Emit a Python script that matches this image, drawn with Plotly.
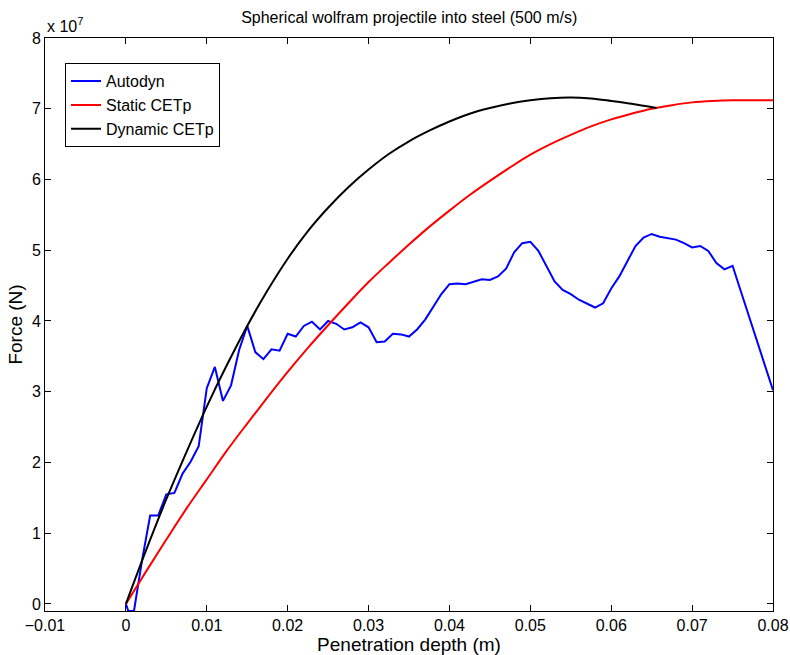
import plotly.graph_objects as go

# Force values in units of 1e7 N, depth in m
autodyn_x = [0.0, 0.0003, 0.001, 0.002, 0.003, 0.004, 0.005, 0.006, 0.007, 0.008, 0.009,
             0.010, 0.011, 0.012, 0.013, 0.014, 0.015, 0.016, 0.017, 0.018, 0.019,
             0.020, 0.021, 0.022, 0.023, 0.024, 0.025, 0.026, 0.027, 0.028, 0.029,
             0.030, 0.031, 0.032, 0.033, 0.034, 0.035, 0.036, 0.037, 0.038, 0.039,
             0.040, 0.041, 0.042, 0.043, 0.044, 0.045, 0.046, 0.047, 0.048, 0.049,
             0.050, 0.051, 0.052, 0.053, 0.054, 0.055, 0.056, 0.057, 0.058, 0.059,
             0.060, 0.061, 0.062, 0.063, 0.064, 0.065, 0.066, 0.067, 0.068, 0.069,
             0.070, 0.071, 0.072, 0.073, 0.074, 0.075, 0.080]
autodyn_f = [0.0, -0.1, -0.1, 0.62, 1.25, 1.25, 1.55, 1.57, 1.84, 2.01, 2.23,
             3.05, 3.35, 2.87, 3.09, 3.59, 3.93, 3.56, 3.46, 3.60, 3.58,
             3.82, 3.78, 3.93, 3.99, 3.88, 4.00, 3.96, 3.88, 3.91, 3.98,
             3.91, 3.70, 3.71, 3.82, 3.81, 3.78, 3.88, 4.02, 4.20, 4.38,
             4.52, 4.53, 4.52, 4.56, 4.59, 4.58, 4.63, 4.74, 4.97, 5.10,
             5.12, 4.99, 4.78, 4.56, 4.44, 4.38, 4.30, 4.24, 4.19, 4.25,
             4.46, 4.63, 4.85, 5.06, 5.18, 5.23, 5.19, 5.17, 5.15, 5.10,
             5.04, 5.06, 4.99, 4.82, 4.73, 4.78, 3.02]

static_x = [0.0, 0.0025, 0.005, 0.0075, 0.010, 0.0125, 0.015, 0.0175, 0.020,
            0.0225, 0.025, 0.0275, 0.030, 0.0325, 0.035, 0.0375, 0.040, 0.0425,
            0.045, 0.0475, 0.050, 0.0525, 0.055, 0.0575, 0.060, 0.0625, 0.065,
            0.0675, 0.070, 0.0725, 0.075, 0.0775, 0.080]
static_f = [0.0, 0.46, 0.91, 1.35, 1.76, 2.17, 2.55, 2.92, 3.28,
            3.62, 3.94, 4.25, 4.55, 4.82, 5.08, 5.33, 5.56, 5.78,
            5.98, 6.17, 6.35, 6.50, 6.63, 6.75, 6.85, 6.93, 7.00,
            7.05, 7.09, 7.11, 7.12, 7.12, 7.12]

dynamic_x = [0.0, 0.0025, 0.005, 0.0075, 0.010, 0.0125, 0.015, 0.0175, 0.020,
             0.0225, 0.025, 0.0275, 0.030, 0.0325, 0.035, 0.0375, 0.040, 0.0425,
             0.045, 0.0475, 0.050, 0.0525, 0.055, 0.0575, 0.060, 0.0625, 0.0656]
dynamic_f = [0.0, 0.76, 1.48, 2.15, 2.79, 3.38, 3.93, 4.43, 4.88,
             5.27, 5.60, 5.89, 6.14, 6.36, 6.54, 6.69, 6.82, 6.93,
             7.01, 7.075, 7.12, 7.15, 7.16, 7.145, 7.11, 7.07, 7.01]

x_ticks = [-0.01, 0, 0.01, 0.02, 0.03, 0.04, 0.05, 0.06, 0.07, 0.08]
x_labels = ["\u22120.01", "0", "0.01", "0.02", "0.03", "0.04", "0.05", "0.06", "0.07", "0.08"]
y_ticks = [0, 1, 2, 3, 4, 5, 6, 7, 8]

font = "Liberation Sans, Arial, sans-serif"

fig = go.Figure()
fig.add_trace(go.Scatter(x=autodyn_x, y=autodyn_f, mode="lines", name="Autodyn",
                         line=dict(color="#0000ff", width=2)))
fig.add_trace(go.Scatter(x=static_x, y=static_f, mode="lines", name="Static CETp",
                         line=dict(color="#ff0000", width=2, shape="spline")))
fig.add_trace(go.Scatter(x=dynamic_x, y=dynamic_f, mode="lines", name="Dynamic CETp",
                         line=dict(color="#000000", width=2, shape="spline")))

axis_common = dict(showgrid=False, zeroline=False, showline=True, linecolor="black",
                   linewidth=1, mirror="ticks", ticks="inside", ticklen=6,
                   tickcolor="black", automargin=False,
                   tickfont=dict(size=16, color="black"))

fig.update_layout(
    width=790, height=655,
    margin=dict(l=45, r=17, t=38, b=44),
    paper_bgcolor="white", plot_bgcolor="white",
    font=dict(family=font, size=16, color="black"),
    title=dict(text="Spherical wolfram projectile into steel (500 m/s)",
               x=0.518, xanchor="center", y=0.973, yanchor="middle",
               font=dict(size=16)),
    xaxis=dict(range=[-0.01, 0.08], tickvals=x_ticks, ticktext=x_labels,
               title=dict(text="Penetration depth (m)", standoff=6), **axis_common),
    yaxis=dict(range=[-0.1, 8], tickvals=y_ticks,
               title=dict(text="Force (N)", standoff=4), **axis_common),
    legend=dict(x=0.0275, y=0.956, xanchor="left", yanchor="top",
                bgcolor="white", bordercolor="black", borderwidth=1,
                font=dict(size=16), tracegroupgap=0, itemwidth=30),
    annotations=[dict(text="x 10<sup>7</sup>", xref="paper", yref="paper",
                      x=0.0, y=1.0, xanchor="left", yanchor="bottom",
                      showarrow=False, font=dict(size=16), yshift=1)],
)

# drop the default page margin so the figure sits at the window's corner
fig.write_html("out.html", config={"displayModeBar": False},
               post_script="document.body.style.margin='0';")
